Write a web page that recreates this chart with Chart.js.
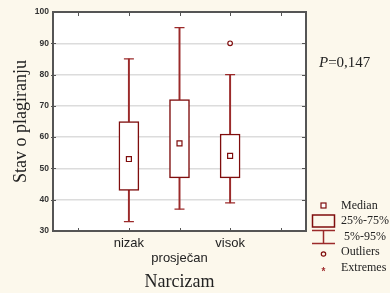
<!DOCTYPE html>
<html>
<head>
<meta charset="utf-8">
<script src="https://cdn.jsdelivr.net/npm/chart.js@4.4.1/dist/chart.umd.min.js"></script>
<style>
  html, body { margin: 0; padding: 0; background: #fcf8ec; }
  #wrap { width: 390px; height: 293px; position: relative; }
</style>
</head>
<body>
<div id="wrap"><canvas id="myChart" width="390" height="293"></canvas></div>
<script>
// box plot values
const groups = ['nizak', 'prosječan', 'visok'];
const whiskerLow = [33, 37, 39];    // 5%
const q1 = [43, 47, 47];            // 25%
const median = [53, 58, 54];
const q3 = [65, 72, 61];            // 75%
const whiskerHigh = [85, 95, 80];   // 95%
const outliers = [null, null, 90];
const yTicks = [30, 40, 50, 60, 70, 80, 90, 100];
const pValue = '=0,147';
const legendItems = ['Median', '25%-75%', ' 5%-95%', 'Outliers', 'Extremes'];

// one empty slot on each side, like the original axis
const labels = ['', ...groups, ''];
const pad = arr => [null, ...arr, null];

const boxColor = '#7f0d0d';
const whiskerColor = '#9b2a2a';
const axisColor = '#555';
const serif = "'Liberation Serif', 'Times New Roman', serif";
const sans = "'Liberation Sans', Arial, sans-serif";

const extras = {
  id: 'extras',
  beforeDraw(chart) {
    const { ctx, chartArea: a } = chart;
    ctx.save();
    ctx.fillStyle = '#ffffff';
    ctx.fillRect(a.left, a.top, a.right - a.left, a.bottom - a.top);
    ctx.restore();
  },
  afterDraw(chart) {
    const { ctx, chartArea: a, scales } = chart;
    ctx.save();
    // top and right frame
    ctx.strokeStyle = axisColor;
    ctx.lineWidth = 2;
    ctx.beginPath();
    ctx.moveTo(a.left, a.top);
    ctx.lineTo(a.right, a.top);
    ctx.lineTo(a.right, a.bottom);
    ctx.stroke();

    // small inward ticks
    ctx.lineWidth = 1;
    yTicks.slice(1, -1).forEach(v => {
      const y = Math.round(scales.y.getPixelForValue(v)) + 0.5;
      ctx.beginPath();
      ctx.moveTo(a.right - 4, y); ctx.lineTo(a.right, y);
      ctx.moveTo(a.left - 2, y); ctx.lineTo(a.left + 3, y);
      ctx.stroke();
    });
    labels.forEach((l, i) => {
      const x = Math.round(scales.x.getPixelForValue(i)) + 0.5;
      ctx.beginPath();
      ctx.moveTo(x, a.top); ctx.lineTo(x, a.top + 4);
      ctx.moveTo(x, a.bottom); ctx.lineTo(x, a.bottom - 3);
      ctx.stroke();
    });

    // P value
    ctx.fillStyle = '#222';
    ctx.textBaseline = 'alphabetic';
    ctx.font = 'italic 15px ' + serif;
    ctx.fillText('P', 319, 67);
    const pw = ctx.measureText('P').width;
    ctx.font = '15px ' + serif;
    ctx.fillText(pValue, 319 + pw, 67);

    // legend
    const sx = 323.5;
    const rows = [205.5, 221, 236.5, 252, 268];
    // median square
    ctx.strokeStyle = boxColor;
    ctx.lineWidth = 1.2;
    ctx.fillStyle = '#fff';
    ctx.fillRect(sx - 2.5, rows[0] - 2.5, 5, 5);
    ctx.strokeRect(sx - 2.5, rows[0] - 2.5, 5, 5);
    // box
    ctx.lineWidth = 1.5;
    ctx.strokeRect(312.5, 215, 22, 12);
    // whisker
    ctx.strokeStyle = whiskerColor;
    ctx.beginPath();
    ctx.moveTo(312, 230.5); ctx.lineTo(335, 230.5);
    ctx.moveTo(sx, 230.5); ctx.lineTo(sx, 243.5);
    ctx.moveTo(312, 243.5); ctx.lineTo(335, 243.5);
    ctx.stroke();
    // outlier
    ctx.strokeStyle = boxColor;
    ctx.lineWidth = 1.2;
    ctx.beginPath();
    ctx.arc(sx, 254, 2.2, 0, Math.PI * 2);
    ctx.stroke();
    // extreme
    ctx.fillStyle = '#a03030';
    ctx.font = 'bold 10px ' + sans;
    ctx.textAlign = 'center';
    ctx.textBaseline = 'middle';
    ctx.fillText('*', sx, 272);

    ctx.fillStyle = '#222';
    ctx.textAlign = 'left';
    ctx.font = '12px ' + serif;
    legendItems.forEach((t, i) => ctx.fillText(t, 341, rows[i]));
    ctx.restore();
  }
};

const pointSet = (data, style, radius, order, extra) => Object.assign({
  type: 'line',
  data: pad(data),
  showLine: false,
  pointStyle: style,
  pointRadius: radius,
  pointBorderWidth: 1.2,
  pointBorderColor: boxColor,
  pointBackgroundColor: '#fff',
  order: order
}, extra || {});

new Chart(document.getElementById('myChart').getContext('2d'), {
  type: 'bar',
  data: {
    labels: labels,
    datasets: [
      pointSet(median, 'rect', 3.5, 0),
      pointSet(outliers, 'circle', 2.3, 0),
      pointSet(whiskerHigh, 'line', 5, 1, { pointBorderColor: whiskerColor, pointBorderWidth: 1.3 }),
      pointSet(whiskerLow, 'line', 5, 1, { pointBorderColor: whiskerColor, pointBorderWidth: 1.3 }),
      {
        data: pad(groups.map((g, i) => [q1[i], q3[i]])),
        backgroundColor: '#fff',
        borderColor: boxColor,
        borderWidth: 1.5,
        borderSkipped: false,
        barThickness: 20,
        grouped: false,
        order: 2
      },
      {
        data: pad(groups.map((g, i) => [whiskerLow[i], q1[i]])),
        backgroundColor: whiskerColor,
        borderWidth: 0,
        barThickness: 1.3,
        grouped: false,
        order: 3
      },
      {
        data: pad(groups.map((g, i) => [q3[i], whiskerHigh[i]])),
        backgroundColor: whiskerColor,
        borderWidth: 0,
        barThickness: 1.3,
        grouped: false,
        order: 3
      }
    ]
  },
  options: {
    responsive: false,
    animation: false,
    events: [],
    layout: { padding: { left: 0, right: 84, top: 12, bottom: 0 } },
    plugins: { legend: { display: false }, tooltip: { enabled: false } },
    scales: {
      x: {
        offset: true,
        grid: { display: false, drawTicks: false },
        border: { color: axisColor, width: 2 },
        ticks: {
          color: '#222',
          padding: 5,
          maxRotation: 0,
          autoSkip: false,
          font: { family: sans, size: 13, lineHeight: 1.15 },
          callback: (v, i) => i === 2 ? ['', labels[i]] : labels[i]
        },
        title: {
          display: true,
          text: 'Narcizam',
          color: '#222',
          font: { family: serif, size: 18 },
          padding: { top: 0, bottom: 0 }
        },
        afterFit: s => { s.height = 62; }
      },
      y: {
        min: 30,
        max: 100,
        afterBuildTicks: s => { s.ticks = yTicks.map(v => ({ value: v })); },
        grid: { color: '#dcdcdc', lineWidth: 1.5, drawTicks: false },
        border: { color: axisColor, width: 2 },
        ticks: {
          color: '#333',
          padding: 4,
          font: { family: sans, size: 8.5, weight: 'bold' }
        },
        title: {
          display: true,
          text: 'Stav o plagiranju',
          color: '#222',
          font: { family: serif, size: 18 },
          padding: { top: 10, bottom: 0 }
        },
        afterFit: s => { s.width = 53; }
      }
    }
  },
  plugins: [extras]
});
</script>
</body>
</html>
